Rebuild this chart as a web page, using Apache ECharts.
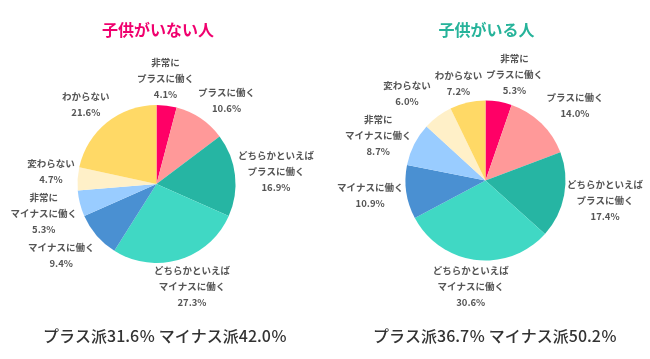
<!DOCTYPE html>
<html>
<head>
<meta charset="utf-8">
<script src="https://cdn.jsdelivr.net/npm/echarts@6/dist/echarts.min.js"></script>
<style>
html,body{margin:0;padding:0;background:#fff;}
#c{width:650px;height:359px;}
</style>
</head>
<body>
<div id="c"></div>
<script>
const categories = ['非常に\nプラスに働く', 'プラスに働く', 'どちらかといえば\nプラスに働く', 'どちらかといえば\nマイナスに働く', 'マイナスに働く', '非常に\nマイナスに働く', '変わらない', 'わからない'];
const valuesNoKids = [4.1, 10.6, 16.9, 27.3, 9.4, 5.3, 4.7, 21.6];
const valuesKids = [5.3, 14.0, 17.4, 30.6, 10.9, 8.7, 6.0, 7.2];
const colors = ['#ff0066', '#ff9999', '#26b5a3', '#40d8c4', '#4a90d2', '#99ccff', '#fff0c8', '#ffd966'];
const titles = ['子供がいない人', '子供がいる人'];
const titleColors = ['#f0006e', '#26b39a'];
const plusIdx = [0, 1, 2];
const minusIdx = [3, 4, 5];

const geo = [
  { cx: 156.5, cy: 184, r: 79, tx: 158, sx: 165 },
  { cx: 485.5, cy: 180.5, r: 80, tx: 486.5, sx: 495 }
];
const seriesValues = [valuesNoKids, valuesKids];
const FONT = '"Noto Sans CJK JP", "Noto Sans", sans-serif';
const LABEL_SIZE = 9.5;
const LINE_H = 16;
const OFFSET = 3;
const PAD = 4;

function sumIdx(vals, idx) { return idx.reduce((a, i) => a + vals[i], 0); }
function labelText(name, v) { return name + '\n' + v.toFixed(1) + '%'; }

// Pre-compute label centres: anchored at the outer edge of each slice, pushed outward,
// then nudged apart where two labels of the same pie would overlap.
const measureCtx = document.createElement('canvas').getContext('2d');
measureCtx.font = 'bold ' + LABEL_SIZE + 'px ' + FONT;
const labelPos = seriesValues.map((vals, si) => {
  const g = geo[si];
  const total = vals.reduce((a, b) => a + b, 0);
  let cum = 0;
  const boxes = vals.map((v, i) => {
    const mid = (cum + v / 2) / total * Math.PI * 2;
    cum += v;
    const lines = labelText(categories[i], v).split('\n');
    const w = Math.max.apply(null, lines.map(l => measureCtx.measureText(l).width));
    const h = lines.length * LINE_H;
    const vx = Math.sin(mid), vy = -Math.cos(mid);
    const ax = g.cx + g.r * vx, ay = g.cy + g.r * vy;
    const vs = 1 / Math.max(Math.abs(vx), Math.abs(vy));
    return { x: ax + w / 2 * vx * vs + OFFSET * vx, y: ay + h / 2 * vy * vs + OFFSET * vy, w, h };
  });
  for (let iter = 0; iter < 5; iter++) {
    for (let a = 0; a < boxes.length; a++) {
      for (let b = a + 1; b < boxes.length; b++) {
        const A = boxes[a], B = boxes[b];
        const ox = (A.w + B.w) / 2 + PAD - Math.abs(A.x - B.x);
        const oy = (A.h + B.h) / 2 + 2 - Math.abs(A.y - B.y);
        if (ox > 0 && oy > 0) {
          if (ox < oy) {
            const s = A.x < B.x ? -1 : 1;
            A.x += s * ox / 2; B.x -= s * ox / 2;
          } else {
            const s = A.y < B.y ? -1 : 1;
            A.y += s * oy / 2; B.y -= s * oy / 2;
          }
        }
      }
    }
  }
  return boxes;
});

function layoutFn(p) {
  const b = labelPos[p.seriesIndex][p.dataIndex];
  return { x: b.x, y: b.y, align: 'center', verticalAlign: 'middle' };
}

const series = seriesValues.map((vals, si) => ({
  type: 'pie',
  center: [geo[si].cx, geo[si].cy],
  radius: geo[si].r,
  startAngle: 90,
  clockwise: true,
  avoidLabelOverlap: false,
  animation: false,
  itemStyle: { borderWidth: 0 },
  emphasis: { disabled: true },
  label: {
    show: true,
    position: 'outside',
    color: '#555',
    fontFamily: FONT,
    fontWeight: 'bold',
    fontSize: LABEL_SIZE,
    lineHeight: LINE_H,
    align: 'center',
    formatter: (p) => labelText(p.name, p.value)
  },
  labelLine: { show: false },
  labelLayout: layoutFn,
  data: vals.map((v, i) => ({ name: categories[i], value: v, itemStyle: { color: colors[i] } }))
}));

const graphics = [];
seriesValues.forEach((vals, si) => {
  graphics.push({
    type: 'text', x: geo[si].tx, y: 30,
    style: { text: titles[si], fill: titleColors[si], font: 'bold 16px ' + FONT, align: 'center', verticalAlign: 'middle' }
  });
  const plus = sumIdx(vals, plusIdx).toFixed(1);
  const minus = sumIdx(vals, minusIdx).toFixed(1);
  graphics.push({
    type: 'text', x: geo[si].sx, y: 335.5,
    style: { text: 'プラス派' + plus + '％ マイナス派' + minus + '％', fill: '#333', font: '500 16px ' + FONT, align: 'center', verticalAlign: 'middle' }
  });
});

const chart = echarts.init(document.getElementById('c'), null, { renderer: 'canvas' });
chart.setOption({
  animation: false,
  backgroundColor: '#fff',
  series: series,
  graphic: graphics
});
</script>
</body>
</html>
